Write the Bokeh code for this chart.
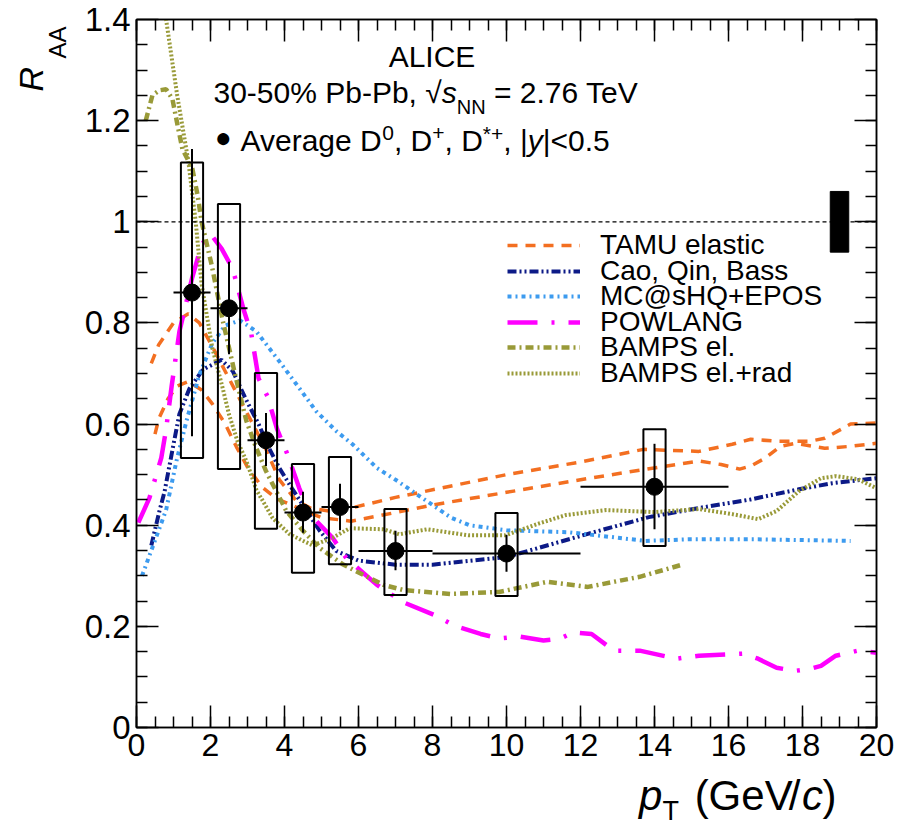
import math
from bokeh.plotting import figure
from bokeh.layouts import row, column
from bokeh.models import (Label, Legend, LegendItem, LinearAxis, FixedTicker,
                          CustomJSTickFormatter, Span)
from bokeh.embed import file_html
from bokeh.resources import INLINE

# ---------------- data ----------------
pt = [1.5, 2.5, 3.5, 4.5, 5.5, 7.0, 10.0, 14.0]
pt_lo = [1.0, 2.0, 3.0, 4.0, 5.0, 6.0, 8.0, 12.0]
pt_hi = [2.0, 3.0, 4.0, 5.0, 6.0, 8.0, 12.0, 16.0]
raa = [0.860, 0.829, 0.568, 0.425, 0.436, 0.349, 0.344, 0.476]
stat_lo = [0.576, 0.738, 0.517, 0.385, 0.390, 0.311, 0.308, 0.392]
stat_hi = [1.144, 0.921, 0.622, 0.466, 0.482, 0.389, 0.381, 0.561]
syst_lo = [0.533, 0.511, 0.393, 0.306, 0.323, 0.262, 0.260, 0.359]
syst_hi = [1.117, 1.035, 0.701, 0.521, 0.535, 0.432, 0.424, 0.590]

norm_pt = [19.0]
norm_lo = [0.94]
norm_hi = [1.06]

tamu_hi_pt = [0.4, 0.6, 1.0, 1.4, 1.7, 2.0, 2.5, 3.0, 3.5, 3.86, 4.3, 4.7, 5.2, 5.8,
              7.0, 8.0, 10.0, 12.0, 13.7, 15.2, 16.1, 16.6, 17.3, 18.2, 18.6, 19.3, 20.0]
tamu_hi = [0.72, 0.757, 0.80, 0.818, 0.80, 0.76, 0.69, 0.62, 0.55, 0.49, 0.45, 0.434, 0.428, 0.434,
           0.455, 0.47, 0.50, 0.525, 0.55, 0.546, 0.56, 0.57, 0.566, 0.566, 0.572, 0.60, 0.602]

tamu_lo_pt = [0.5, 0.6, 0.85, 1.1, 1.4, 1.75, 2.05, 2.4, 2.7, 3.0, 3.4, 3.8, 4.5, 5.0, 5.8,
              7.0, 8.0, 10.0, 12.0, 13.7, 15.2, 15.8, 16.3, 16.6, 17.0, 17.4, 17.8, 18.6, 19.3, 20.0]
tamu_lo = [0.58, 0.61, 0.65, 0.675, 0.684, 0.668, 0.64, 0.60, 0.555, 0.515, 0.475, 0.452, 0.43, 0.415, 0.408,
           0.425, 0.44, 0.465, 0.49, 0.51, 0.527, 0.52, 0.511, 0.517, 0.533, 0.556, 0.562, 0.552, 0.556, 0.562]

cao_pt = [0.4, 0.62, 0.76, 1.0, 1.16, 1.43, 1.8, 2.3, 2.6, 2.95, 3.3, 3.6, 3.86, 4.2, 4.95, 5.4, 6.0,
          7.0, 8.0, 10.0, 12.2, 13.85, 15.2, 16.6, 17.9, 18.8, 20.0]
cao = [0.36, 0.428, 0.467, 0.56, 0.62, 0.67, 0.708, 0.727, 0.705, 0.65, 0.60, 0.55, 0.513, 0.473, 0.389, 0.349, 0.33,
       0.322, 0.322, 0.337, 0.383, 0.416, 0.434, 0.451, 0.471, 0.483, 0.493]

mc_pt = [0.15, 0.5, 0.8, 1.08, 1.35, 1.7, 2.05, 2.4, 2.8, 3.24, 3.86, 4.4, 4.86, 5.4, 5.84, 6.5,
         7.0, 7.5, 8.0, 8.5, 9.0, 10.0, 11.7, 13.76, 14.9, 16.8, 19.3]
mc = [0.30, 0.37, 0.43, 0.527, 0.606, 0.698, 0.76, 0.795, 0.805, 0.783, 0.724, 0.671, 0.625, 0.586, 0.56, 0.513,
      0.49, 0.465, 0.44, 0.415, 0.40, 0.39, 0.386, 0.369, 0.372, 0.372, 0.369]

pow_pt = [0.05, 0.35, 0.67, 0.8, 0.95, 1.16, 1.5, 1.76, 2.0, 2.3, 2.6, 2.9, 3.1, 3.3, 3.54, 3.8, 4.08,
          4.4, 4.68, 5.3, 5.67, 6.5, 7.2, 8.1, 8.6, 9.3, 9.8, 10.35, 11.0, 11.46, 11.8, 12.3, 12.9, 13.6,
          14.6, 15.2, 16.4, 16.8, 17.3, 17.8, 18.2, 18.5, 18.9, 19.5, 20.0]
pow_raa = [0.405, 0.454, 0.533, 0.59, 0.675, 0.783, 0.888, 0.955, 0.976, 0.947, 0.907, 0.825, 0.78, 0.69, 0.655,
           0.59, 0.54, 0.473, 0.422, 0.375, 0.335, 0.282, 0.248, 0.221, 0.201, 0.185, 0.176, 0.18, 0.172, 0.176,
           0.188, 0.185, 0.152, 0.152, 0.136, 0.142, 0.146, 0.136, 0.118, 0.112, 0.116, 0.122, 0.142, 0.152, 0.148]

bel_pt = [0.25, 0.43, 0.62, 0.8, 0.97, 1.11, 1.24, 1.51, 1.65, 1.76, 2.03, 2.33, 2.7, 2.97, 3.24, 3.5,
          4.05, 4.5, 4.95, 5.57, 6.1, 6.68, 7.2, 8.5, 9.8, 11.1, 12.2, 13.6, 14.7]
bel = [1.20, 1.25, 1.26, 1.262, 1.243, 1.191, 1.144, 1.105, 1.053, 1.0, 0.915, 0.805, 0.687, 0.606, 0.552, 0.507,
       0.428, 0.389, 0.355, 0.323, 0.303, 0.282, 0.272, 0.264, 0.268, 0.288, 0.278, 0.298, 0.321]

brad_pt = [0.7, 0.8, 1.1, 1.4, 1.6, 1.76, 2.05, 2.33, 2.5, 2.73, 2.97, 3.24, 3.68, 4.14, 4.76, 5.3, 5.76,
           6.68, 7.1, 7.86, 8.97, 9.97, 10.9, 11.6, 12.7, 14.0, 15.2, 16.1, 16.8, 17.3, 17.9, 18.5, 18.9, 19.5, 20.0]
brad = [1.48, 1.40, 1.25, 1.12, 1.0, 0.876, 0.75, 0.671, 0.619, 0.566, 0.527, 0.47, 0.414, 0.382, 0.36, 0.375, 0.394,
        0.392, 0.382, 0.392, 0.38, 0.38, 0.404, 0.42, 0.43, 0.426, 0.432, 0.422, 0.412, 0.428, 0.467, 0.493, 0.497,
        0.491, 0.473]

model_names = ["TAMU elastic", "Cao, Qin, Bass", "MC@sHQ+EPOS", "POWLANG", "BAMPS el.", "BAMPS el.+rad"]

x_ticks = [0, 2, 4, 6, 8, 10, 12, 14, 16, 18, 20]
y_ticks = [0, 0.2, 0.4, 0.6, 0.8, 1.0, 1.2, 1.4]

# ---------------- layout constants ----------------
FONT = "Liberation Sans"
TOTAL_W, TOTAL_H = 901, 829
LW = 75                        # strip for the y title
MW, MH = TOTAL_W - LW, 771     # main figure
BH = TOTAL_H - MH              # strip for the x title
FRAME_W, FRAME_H = 740, 708
BL, BT = 61, 19
BR = MW - BL - FRAME_W
BB = MH - BT - FRAME_H
FX0 = LW + BL                  # page x of frame left
FY0 = BT + FRAME_H             # page y of frame bottom
SX = FRAME_W / 20.0
SY = FRAME_H / 1.4
BASE_FIX = 0.43                # measured offset of Bokeh's alphabetic anchor (in em)

p = figure(width=MW, height=MH, x_range=(0, 20), y_range=(0, 1.4),
           output_backend="svg", toolbar_location=None,
           min_border_left=BL, min_border_right=BR, min_border_top=BT, min_border_bottom=BB,
           background_fill_color="white", border_fill_color="white")
p.grid.visible = False
p.outline_line_color = "black"
p.outline_line_width = 1.5

xt = FixedTicker(ticks=x_ticks, minor_ticks=[i * 0.5 for i in range(41)])
yt = FixedTicker(ticks=y_ticks, minor_ticks=[i * 0.05 for i in range(29)])


def style_axis(ax, ticker, labels, size):
    ax.ticker = ticker
    ax.major_tick_in = 22
    ax.major_tick_out = 0
    ax.minor_tick_in = 11
    ax.minor_tick_out = 0
    ax.axis_line_color = "black"
    ax.axis_line_width = 1.5
    ax.major_tick_line_color = "black"
    ax.major_tick_line_width = 1.5
    ax.minor_tick_line_color = "black"
    ax.minor_tick_line_width = 1.5
    ax.axis_label = None
    if labels:
        ax.major_label_text_font = FONT
        ax.major_label_text_font_size = size
        ax.major_label_text_color = "black"
        ax.major_label_standoff = 6
    else:
        ax.formatter = CustomJSTickFormatter(code="return ''")
        ax.major_label_text_font_size = "0px"
        ax.major_label_standoff = 0


style_axis(p.xaxis[0], xt, True, "32px")
p.xaxis[0].formatter = CustomJSTickFormatter(code="return tick.toFixed(0);")
style_axis(p.yaxis[0], yt, True, "33px")
p.yaxis[0].formatter = CustomJSTickFormatter(code="return (Math.round(tick*10)/10).toString();")
top_ax = LinearAxis()
style_axis(top_ax, xt, False, None)
p.add_layout(top_ax, "above")
right_ax = LinearAxis()
style_axis(right_ax, yt, False, None)
p.add_layout(right_ax, "right")

# reference line at unity
p.add_layout(Span(location=1.0, dimension="width", line_color="black", line_dash="4 3", line_width=1.2))

# ---------------- model curves ----------------
c_tamu, c_cao, c_mc = "#f36f21", "#0c1a87", "#3d9bef"
c_pow, c_bamps = "#ff00ff", "#999a38"

r_tamu = p.line(tamu_hi_pt, tamu_hi, line_color=c_tamu, line_width=3.5, line_dash="10 8")
p.line(tamu_lo_pt, tamu_lo, line_color=c_tamu, line_width=3.5, line_dash="10 8")
r_cao = p.line(cao_pt, cao, line_color=c_cao, line_width=4, line_dash="9 3 2 3 2 3")
r_mc = p.line(mc_pt, mc, line_color=c_mc, line_width=4, line_dash="4 4 2 4")
r_pow = p.line(pow_pt, pow_raa, line_color=c_pow, line_width=4.5, line_dash="30 14 3 14")
r_bel = p.line(bel_pt, bel, line_color=c_bamps, line_width=4.5, line_dash="8 4 2 4")
r_brad = p.line(brad_pt, brad, line_color=c_bamps, line_width=4, line_dash="2 2")

# ---------------- data ----------------
box_half = 0.3
p.quad(left=[x - box_half for x in pt], right=[x + box_half for x in pt],
       bottom=syst_lo, top=syst_hi, fill_color=None, line_color="black", line_width=2)
p.segment(x0=pt_lo, y0=raa, x1=pt_hi, y1=raa, line_color="black", line_width=2)
p.segment(x0=pt, y0=stat_lo, x1=pt, y1=stat_hi, line_color="black", line_width=2)
p.scatter(pt, raa, size=17, marker="circle", fill_color="black", line_color="black")

norm_half = 0.25
p.quad(left=[x - norm_half for x in norm_pt], right=[x + norm_half for x in norm_pt],
       bottom=norm_lo, top=norm_hi, fill_color="black", line_color="black")

# ---------------- legend (one row per Legend for exact row pitch) ----------------
LEG_FIRST_ROW = 245      # page y of first row centre
LEG_PITCH = 25.6
LEG_ITEM_H = 32
for i, (name, rend) in enumerate(zip(model_names, [r_tamu, r_cao, r_mc, r_pow, r_bel, r_brad])):
    centre = LEG_FIRST_ROW + i * LEG_PITCH
    leg = Legend(items=[LegendItem(label=name, renderers=[rend])],
                 location=(507 - FX0, FY0 - (centre + LEG_ITEM_H / 2)),
                 label_text_font=FONT, label_text_font_size="28px",
                 label_text_color="black", glyph_width=73, glyph_height=20, label_height=20,
                 label_standoff=20, spacing=0, padding=0, margin=0,
                 border_line_alpha=0, background_fill_alpha=0)
    p.add_layout(leg)

# ---------------- texts ----------------
AW = {' ': 278, '%': 889, '(': 333, ')': 333, '*': 389, '+': 584, ',': 278, '-': 333, '.': 278,
      '/': 278, '<': 584, '=': 584, '|': 260, '\u221a': 549, '\u25cf': 604}
for ch in "0123456789":
    AW[ch] = 556
AW.update(dict(A=667, B=667, C=722, D=722, E=667, G=778, I=278, L=556, M=833, N=722, P=667,
               R=722, T=611, V=667))
AW.update(dict(a=556, b=556, c=500, e=556, g=556, i=222, l=222, n=556, p=556, r=333, s=500,
               t=278, u=556, v=500, y=500))


def tw(s, size):
    return sum(AW.get(ch, 556) for ch in s) * size / 1000.0


def make_put(fig, fx, fy):
    def put(txt, px, py, size, style="normal", align="left", baseline="alphabetic", angle=0.0):
        lead = len(txt) - len(txt.lstrip(" "))
        txt = txt.strip(" ")
        if angle == 0.0:
            px += tw(" " * lead, size)
            py -= BASE_FIX * size
        else:
            px -= BASE_FIX * size
        fig.add_layout(Label(x=fx(px), y=fy(py), text=txt, text_font=FONT,
                             text_font_size=f"{size}px", text_font_style=style, text_color="black",
                             text_align=align, text_baseline=baseline, angle=angle, angle_units="rad"))
    return put


put = make_put(p, lambda px: (px - FX0) / SX, lambda py: (FY0 - py) / SY)


def rich(putf, parts, px, py):
    for txt, size, style, dy, gap in parts:
        putf(txt, px, py + dy, size, style)
        px += tw(txt, size) + gap


put("ALICE", 431.5, 68.5, 30, align="center")
rich(put, [("30-50% Pb-Pb, ", 30, "normal", 0, 0), ("\u221a", 30, "normal", 0, 0),
           ("s", 30, "italic", 0, 0), ("NN", 20, "normal", 10, 0), (" = 2.76 TeV", 30, "normal", 0, 0)],
     213, 105)
put("\u25cf", 223, 149, 28, align="center")
rich(put, [("Average D", 30, "normal", 0, 0), ("0", 21, "normal", -11, 0), (", D", 30, "normal", 0, 0),
           ("+", 21, "normal", -11, 0), (", D", 30, "normal", 0, 0), ("*+", 21, "normal", -11, 0),
           (", |", 30, "normal", 0, 0), ("y", 30, "italic", 0, 0), ("|<0.5", 30, "normal", 0, 0)],
     240, 153)


def strip_fig(w, h):
    f = figure(width=w, height=h, x_range=(0, w), y_range=(0, h), output_backend="svg",
               toolbar_location=None, x_axis_location=None, y_axis_location=None,
               min_border=0, outline_line_color=None,
               background_fill_color="white", border_fill_color="white")
    f.grid.visible = False
    return f


# y title R_AA (rotated), left strip
left = strip_fig(LW, TOTAL_H)
put_l = make_put(left, lambda px: px, lambda py: TOTAL_H - py)
put_l("R", 45, 91, 34, style="italic", angle=math.pi / 2)
put_l("AA", 67, 58, 24, angle=math.pi / 2)

# x title p_T (GeV/c), bottom strip
bottom = strip_fig(MW, BH)
put_b = make_put(bottom, lambda px: px - LW, lambda py: TOTAL_H - py)
put_b("p", 636, 813, 42, style="italic")
put_b("T", 662, 822, 27)
rich(put_b, [("(GeV", 42, "normal", 0, 7), ("/", 42, "normal", 0, 3), ("c", 42, "italic", 0, 2),
             (")", 42, "normal", 0, 0)], 698, 813)

layout = row(left, column(p, bottom))
open("out.html", "w").write(file_html(layout, INLINE))
